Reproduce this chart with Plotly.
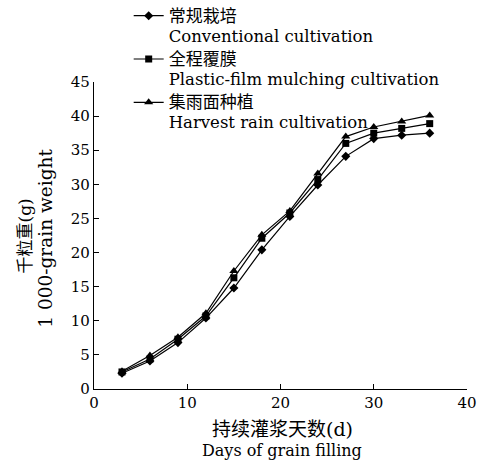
import plotly.graph_objects as go

days = [3, 6, 9, 12, 15, 18, 21, 24, 27, 30, 33, 36]
conventional = [2.3, 4.1, 6.8, 10.4, 14.8, 20.4, 25.3, 29.9, 34.1, 36.7, 37.2, 37.5]
plastic_film = [2.5, 4.4, 7.3, 10.7, 16.3, 22.1, 25.8, 30.7, 36.0, 37.5, 38.2, 38.9]
harvest_rain = [2.6, 4.9, 7.6, 11.1, 17.3, 22.6, 26.1, 31.6, 37.0, 38.4, 39.2, 40.1]

names_cn = ["常规栽培", "全程覆膜", "集雨面种植"]
names_en = ["Conventional cultivation", "Plastic-film mulching cultivation", "Harvest rain cultivation"]
x_ticks = [0, 10, 20, 30, 40]
y_ticks = [0, 5, 10, 15, 20, 25, 30, 35, 40, 45]

FONT = "DejaVu Serif, Noto Sans CJK SC, serif"

fig = go.Figure()
series = [(conventional, "diamond", 7), (plastic_film, "square", 7), (harvest_rain, "triangle-up", 8)]
for (vals, sym, sz), cn, en in zip(series, names_cn, names_en):
    label = ('<span style="font-size:17px">' + cn + '</span><br>'
             '<span style="font-size:16.5px">' + en + '</span>')
    fig.add_trace(go.Scatter(
        x=days, y=vals, name=label, mode="lines+markers",
        line=dict(color="black", width=1.2),
        marker=dict(symbol=sym, size=sz, color="black"),
    ))

fig.update_layout(
    width=483, height=468,
    margin=dict(l=94, r=16, t=82, b=79, autoexpand=False),
    plot_bgcolor="white", paper_bgcolor="white",
    font=dict(family=FONT, size=15, color="black"),
    showlegend=True,
    legend=dict(
        x=0.093, y=1.27, xanchor="left", yanchor="top",
        bgcolor="rgba(0,0,0,0)", valign="top",
        font=dict(family=FONT, size=15.5, color="black"),
        tracegroupgap=0,
    ),
    xaxis=dict(
        range=[0, 40], tickvals=x_ticks, showgrid=False, zeroline=False,
        showline=True, linecolor="black", linewidth=1.2,
        ticks="inside", ticklen=5, tickcolor="black",
        tickfont=dict(family=FONT, size=15),
    ),
    yaxis=dict(
        range=[0, 45], tickvals=y_ticks, showgrid=False, zeroline=False,
        showline=True, linecolor="black", linewidth=1.2,
        ticks="inside", ticklen=5, tickcolor="black",
        tickfont=dict(family=FONT, size=15),
    ),
    annotations=[
        dict(text="千粒重(g)", xref="paper", yref="paper", x=-0.185, y=0.5,
             xanchor="center", yanchor="middle", textangle=-90, showarrow=False,
             font=dict(family=FONT, size=17)),
        dict(text="1 000-grain weight", xref="paper", yref="paper", x=-0.131, y=0.49,
             xanchor="center", yanchor="middle", textangle=-90, showarrow=False,
             font=dict(family=FONT, size=18.5)),
        dict(text="持续灌浆天数(d)", xref="paper", yref="paper", x=0.505, y=-0.13,
             xanchor="center", yanchor="middle", showarrow=False,
             font=dict(family=FONT, size=19)),
        dict(text="Days of grain filling", xref="paper", yref="paper", x=0.505, y=-0.199,
             xanchor="center", yanchor="middle", showarrow=False,
             font=dict(family=FONT, size=16)),
    ],
)

fig.write_html("out.html")
